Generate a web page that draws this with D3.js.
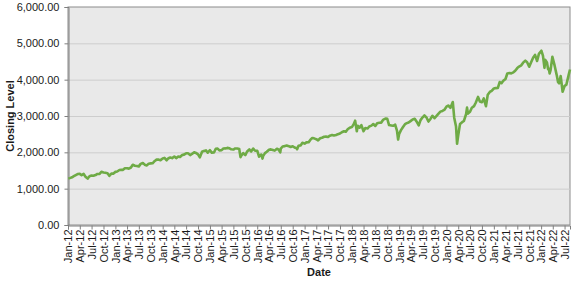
<!DOCTYPE html>
<html>
<head>
<meta charset="utf-8">
<script src="https://cdn.jsdelivr.net/npm/d3@7"></script>
<style>
  html, body { margin: 0; padding: 0; background: #fff; }
  #chart text { font-family: "Liberation Sans", Arial, sans-serif; }
</style>
</head>
<body>
<div id="chart"></div>
<script>
// closing level readings (approx. twice a month, plus turning points)
const dates = [
  '2012-01-03','2012-01-15','2012-02-01','2012-02-15','2012-03-01','2012-03-15','2012-04-01','2012-04-15','2012-05-01','2012-05-15','2012-06-01','2012-06-15',
  '2012-07-01','2012-07-15','2012-08-01','2012-08-15','2012-09-01','2012-09-15','2012-10-01','2012-10-15','2012-11-01','2012-11-15','2012-12-01','2012-12-15',
  '2013-01-01','2013-01-15','2013-02-01','2013-02-15','2013-03-01','2013-03-15','2013-04-01','2013-04-15','2013-05-01','2013-05-15','2013-06-01','2013-06-15',
  '2013-07-01','2013-07-15','2013-08-01','2013-08-15','2013-09-01','2013-09-15','2013-10-01','2013-10-15','2013-11-01','2013-11-15','2013-12-01','2013-12-15',
  '2014-01-01','2014-01-15','2014-02-01','2014-02-15','2014-03-01','2014-03-15','2014-04-01','2014-04-15','2014-05-01','2014-05-15','2014-06-01','2014-06-15',
  '2014-07-01','2014-07-15','2014-08-01','2014-08-15','2014-09-01','2014-09-15','2014-10-01','2014-10-15','2014-11-01','2014-11-15','2014-12-01','2014-12-15',
  '2015-01-01','2015-01-15','2015-02-01','2015-02-15','2015-03-01','2015-03-15','2015-04-01','2015-04-15','2015-05-01','2015-05-15','2015-06-01','2015-06-15',
  '2015-07-01','2015-07-15','2015-08-01','2015-08-15','2015-08-25','2015-09-01','2015-09-15','2015-10-01','2015-10-15','2015-11-01','2015-11-15','2015-12-01','2015-12-15',
  '2016-01-01','2016-01-15','2016-02-01','2016-02-11','2016-02-15','2016-03-01','2016-03-15','2016-04-01','2016-04-15','2016-05-01','2016-05-15','2016-06-01','2016-06-15','2016-06-27',
  '2016-07-01','2016-07-15','2016-08-01','2016-08-15','2016-09-01','2016-09-15','2016-10-01','2016-10-15','2016-11-01','2016-11-04','2016-11-15','2016-12-01','2016-12-15',
  '2017-01-01','2017-01-15','2017-02-01','2017-02-15','2017-03-01','2017-03-15','2017-04-01','2017-04-15','2017-05-01','2017-05-15','2017-06-01','2017-06-15',
  '2017-07-01','2017-07-15','2017-08-01','2017-08-15','2017-09-01','2017-09-15','2017-10-01','2017-10-15','2017-11-01','2017-11-15','2017-12-01','2017-12-15',
  '2018-01-01','2018-01-15','2018-01-26','2018-02-08','2018-02-15','2018-03-01','2018-03-15','2018-04-01','2018-04-15','2018-05-01','2018-05-15','2018-06-01','2018-06-15',
  '2018-07-01','2018-07-15','2018-08-01','2018-08-15','2018-09-01','2018-09-20','2018-10-01','2018-10-15','2018-11-01','2018-11-15','2018-12-01','2018-12-15','2018-12-24',
  '2019-01-01','2019-01-15','2019-02-01','2019-02-15','2019-03-01','2019-03-15','2019-04-01','2019-04-15','2019-05-01','2019-05-15','2019-06-01','2019-06-15',
  '2019-07-01','2019-07-15','2019-08-01','2019-08-15','2019-09-01','2019-09-15','2019-10-01','2019-10-15','2019-11-01','2019-11-15','2019-12-01','2019-12-15',
  '2020-01-01','2020-01-15','2020-02-01','2020-02-19','2020-03-01','2020-03-15','2020-03-23','2020-04-01','2020-04-15','2020-05-01','2020-05-15','2020-06-01','2020-06-08','2020-06-15',
  '2020-07-01','2020-07-15','2020-08-01','2020-08-15','2020-09-01','2020-09-15','2020-10-01','2020-10-15','2020-11-01','2020-11-15','2020-12-01','2020-12-15',
  '2021-01-01','2021-01-15','2021-02-01','2021-02-15','2021-03-01','2021-03-15','2021-04-01','2021-04-15','2021-05-01','2021-05-15','2021-06-01','2021-06-15',
  '2021-07-01','2021-07-15','2021-08-01','2021-08-15','2021-09-01','2021-09-15','2021-10-01','2021-10-15','2021-11-01','2021-11-15','2021-12-01','2021-12-15',
  '2022-01-03','2022-01-15','2022-01-27','2022-02-01','2022-02-15','2022-02-24','2022-03-01','2022-03-08','2022-03-15','2022-03-29','2022-04-15','2022-05-01','2022-05-12','2022-05-20',
  '2022-06-01','2022-06-16','2022-07-01','2022-07-15','2022-08-01','2022-08-12'
];
const closes = [
  1277,1290,1312,1343,1374,1402,1408,1370,1405,1330,1278,1342,
  1362,1356,1375,1405,1406,1465,1444,1440,1427,1353,1416,1413,
  1462,1472,1513,1520,1518,1560,1562,1552,1582,1658,1631,1626,
  1614,1682,1706,1661,1640,1688,1695,1698,1762,1798,1800,1781,
  1831,1848,1782,1838,1859,1841,1885,1842,1883,1870,1924,1937,
  1973,1973,1925,1955,2003,1984,1946,1862,2018,2039,2053,1990,
  2058,1992,1994,2096,2104,2053,2060,2106,2108,2122,2111,2084,
  2077,2107,2104,2091,1867,1914,1978,1923,2023,2079,2023,2103,2043,
  2044,1880,1940,1829,1895,1978,2015,2072,2081,2065,2047,2099,2072,2000,
  2102,2161,2170,2190,2170,2147,2168,2133,2111,2085,2180,2191,2262,
  2239,2274,2279,2349,2395,2385,2362,2329,2388,2402,2430,2432,
  2423,2459,2476,2464,2476,2500,2519,2553,2579,2565,2642,2675,
  2695,2776,2873,2581,2732,2677,2748,2582,2670,2655,2711,2735,2779,
  2727,2801,2813,2818,2901,2930,2924,2750,2740,2730,2760,2600,2351,
  2510,2610,2706,2775,2803,2822,2867,2905,2923,2850,2744,2886,
  2964,3014,2953,2847,2926,3007,2940,2995,3066,3120,3140,3168,
  3257,3289,3225,3386,2954,2711,2237,2470,2783,2830,2863,3055,3232,3066,
  3115,3226,3271,3372,3526,3401,3380,3483,3270,3585,3662,3694,
  3756,3768,3774,3934,3901,3968,4019,4170,4181,4173,4202,4246,
  4319,4360,4395,4468,4524,4480,4357,4471,4613,4682,4513,4709,
  4796,4662,4326,4546,4471,4288,4306,4170,4262,4631,4392,4132,3930,3901,
  4101,3667,3825,3863,4118,4280
];
const yTicks = [0, 1000, 2000, 3000, 4000, 5000, 6000];
const xStart = '2012-01-01';
const xEnd = '2022-08-12';
const yLabel = 'Closing Level';
const xLabel = 'Date';

const parse = d3.timeParse('%Y-%m-%d');
const dataset = dates.map((d, i) => ({ date: parse(d), value: closes[i] }));

const w = 582;
const h = 282;
const margin = { top: 7, right: 12, bottom: 57, left: 68 };

const xScale = d3.scaleTime()
  .domain([parse(xStart), parse(xEnd)])
  .range([margin.left, w - margin.right]);

const yScale = d3.scaleLinear()
  .domain([0, 6000])
  .range([h - margin.bottom, margin.top]);

const svg = d3.select('#chart')
  .append('svg')
  .attr('width', w)
  .attr('height', h);

// plot background
svg.append('rect')
  .attr('x', margin.left)
  .attr('y', margin.top)
  .attr('width', w - margin.left - margin.right)
  .attr('height', h - margin.top - margin.bottom)
  .attr('fill', '#e9e9e9')
  .attr('stroke', '#8c8c8c')
  .attr('stroke-width', 1);

// gridlines
svg.append('g')
  .selectAll('line')
  .data(yTicks.slice(1, -1))
  .join('line')
  .attr('x1', margin.left)
  .attr('x2', w - margin.right)
  .attr('y1', d => yScale(d) + 0.5)
  .attr('y2', d => yScale(d) + 0.5)
  .attr('stroke', '#cdcdcd')
  .attr('stroke-width', 1);

// y axis
const yAxis = d3.axisLeft(yScale)
  .tickValues(yTicks)
  .tickSize(4)
  .tickPadding(5)
  .tickFormat(d3.format(',.2f'));

svg.append('g')
  .attr('class', 'y-axis')
  .attr('transform', `translate(${margin.left + 0.5}, 0)`)
  .call(yAxis);

// x axis, quarterly ticks
const xAxis = d3.axisBottom(xScale)
  .ticks(d3.timeMonth.every(3))
  .tickSize(4)
  .tickPadding(3)
  .tickFormat(d3.timeFormat('%b-%y'));

svg.append('g')
  .attr('class', 'x-axis')
  .attr('transform', `translate(0, ${h - margin.bottom + 0.5})`)
  .call(xAxis);

svg.select('.x-axis')
  .selectAll('text')
  .attr('transform', 'rotate(-90)')
  .attr('text-anchor', 'end')
  .attr('x', -4)
  .attr('y', 0)
  .attr('dy', '0.35em');

svg.selectAll('.domain, .tick line')
  .attr('stroke', '#7f7f7f');

svg.selectAll('.tick text')
  .attr('fill', '#1a1a1a')
  .attr('font-size', '11px');

// closing level line
const line = d3.line()
  .x(d => xScale(d.date))
  .y(d => yScale(d.value));

svg.append('path')
  .datum(dataset)
  .attr('fill', 'none')
  .attr('stroke', '#6fab46')
  .attr('stroke-width', 2.6)
  .attr('stroke-linejoin', 'round')
  .attr('d', line);

// axis titles
svg.append('text')
  .attr('transform', `translate(10, ${(margin.top + h - margin.bottom) / 2}) rotate(-90)`)
  .attr('text-anchor', 'middle')
  .attr('dy', '0.35em')
  .attr('font-size', '11px')
  .attr('font-weight', 'bold')
  .attr('fill', '#1a1a1a')
  .text(yLabel);

svg.append('text')
  .attr('x', (margin.left + w - margin.right) / 2)
  .attr('y', 272)
  .attr('text-anchor', 'middle')
  .attr('dy', '0.35em')
  .attr('font-size', '11px')
  .attr('font-weight', 'bold')
  .attr('fill', '#1a1a1a')
  .text(xLabel);
</script>
</body>
</html>
